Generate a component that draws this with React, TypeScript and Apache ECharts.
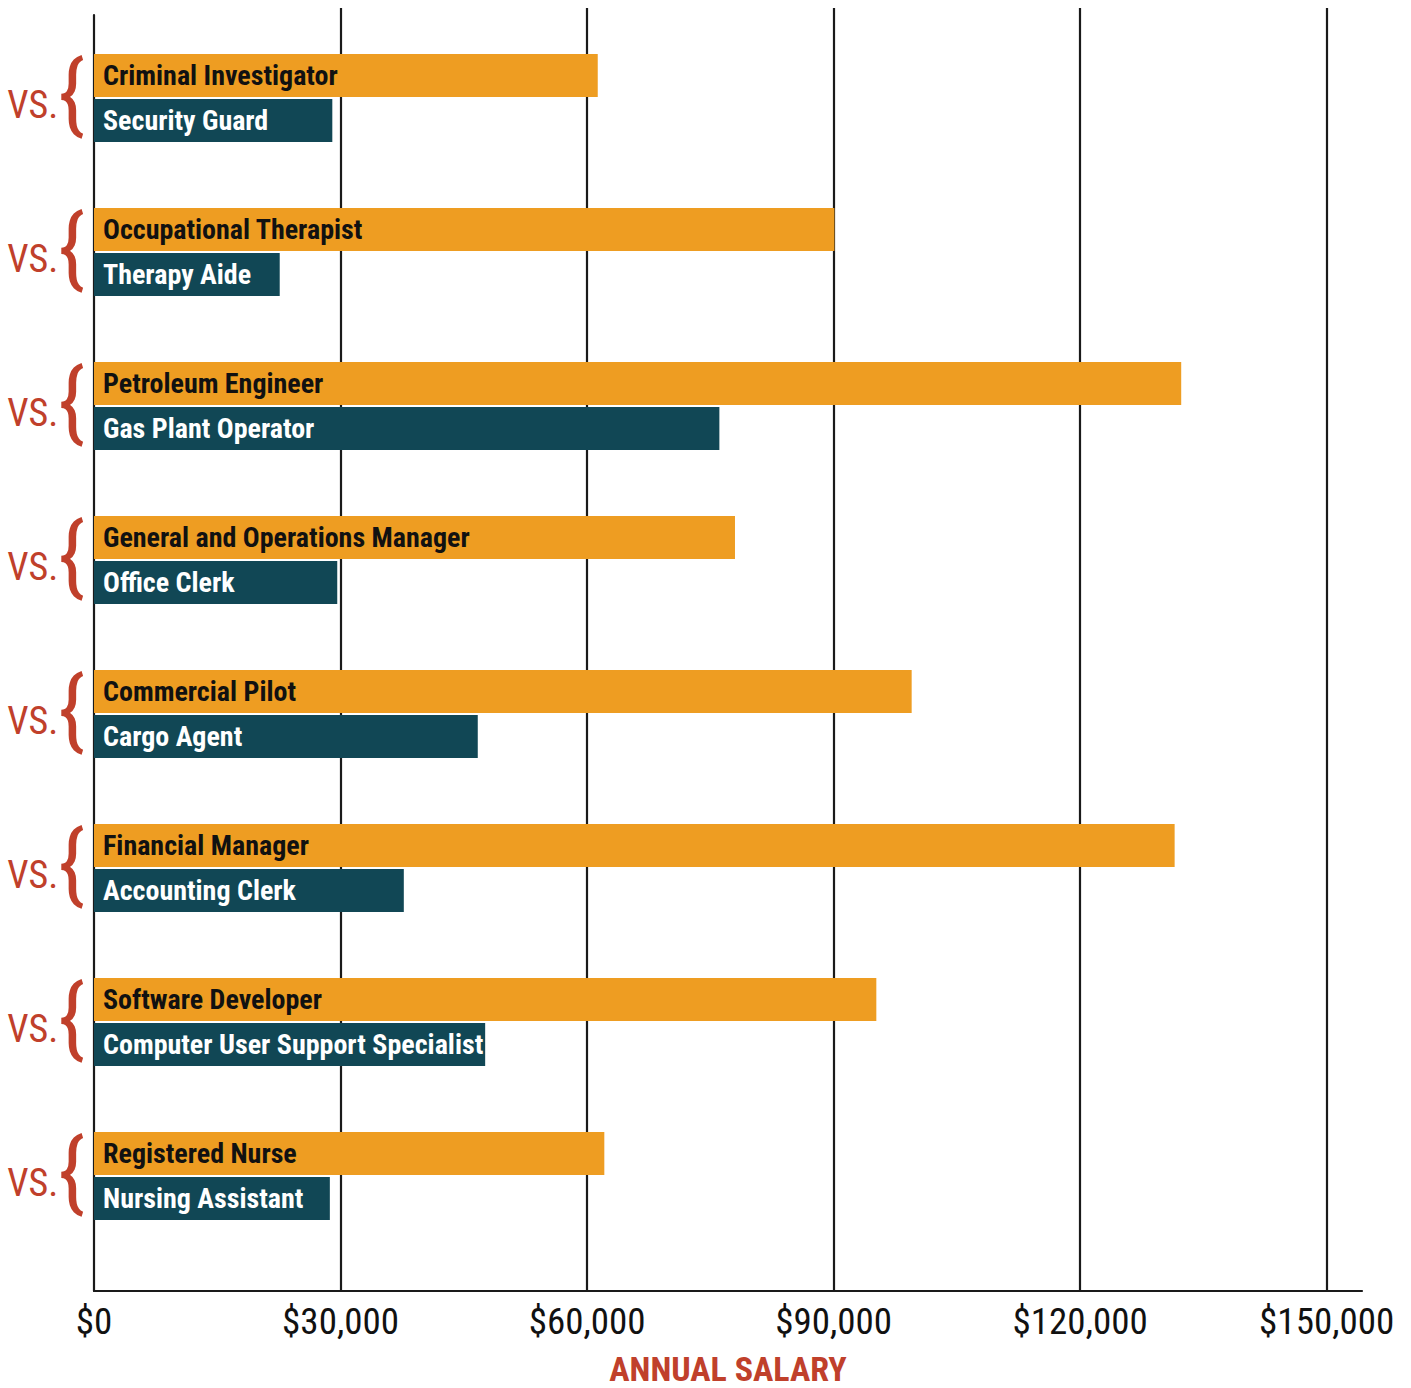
import React, { useEffect, useRef } from "react";
import * as echarts from "echarts";

const higherJobs = [
  "Criminal Investigator",
  "Occupational Therapist",
  "Petroleum Engineer",
  "General and Operations Manager",
  "Commercial Pilot",
  "Financial Manager",
  "Software Developer",
  "Registered Nurse",
];
const higherSalaries = [61300, 90100, 132300, 78000, 99500, 131500, 95200, 62100];
const lowerJobs = [
  "Security Guard",
  "Therapy Aide",
  "Gas Plant Operator",
  "Office Clerk",
  "Cargo Agent",
  "Accounting Clerk",
  "Computer User Support Specialist",
  "Nursing Assistant",
];
const lowerSalaries = [29000, 22600, 76100, 29600, 46700, 37700, 47600, 28700];
const tickValues = [0, 30000, 60000, 90000, 120000, 150000];
const axisTitle = "ANNUAL SALARY";
const pairLabel = "VS.";
const categories = higherJobs.map((h, i) => `${h} vs. ${lowerJobs[i]}`);

const X_MAX = 154300;
const FONT = "'Liberation Sans Narrow', 'Arial Narrow', 'Roboto Condensed', 'DejaVu Sans Condensed', sans-serif";
const ORANGE = "#EE9D22";
const TEAL = "#114755";
const RED = "#C0402B";
const INK = "#1a1a1a";

export default function App() {
  const ref = useRef<HTMLDivElement>(null);
  useEffect(() => {
    if (!ref.current) return;
    const chart = echarts.init(ref.current, undefined, { renderer: "svg" });
    const lineStyle = { color: INK, width: 2.2 };
    const gridBase = { left: 94, right: 49, containLabel: false, outerBoundsMode: "none" };
    chart.setOption({
      animation: false,
      backgroundColor: "#ffffff",
      grid: [
        { ...gridBase, top: 21, height: 1232 },
        { ...gridBase, top: 8, bottom: 97 },
        { ...gridBase, top: 15, bottom: 97 },
      ],
      xAxis: [
        { gridIndex: 0, type: "value", min: 0, max: X_MAX, show: false },
        {
          gridIndex: 1,
          type: "value",
          min: 0,
          max: X_MAX,
          interval: 30000,
          axisLine: { show: true, lineStyle },
          axisTick: { show: false },
          splitLine: { show: true, showMinLine: false, showMaxLine: false, lineStyle },
          axisLabel: {
            show: true,
            margin: 12,
            fontSize: 37,
            color: "#111",
            fontFamily: FONT,
            showMaxLabel: false,
            formatter: (v: number) => (tickValues.includes(v) ? "$" + v.toLocaleString("en-US") : ""),
          },
          name: axisTitle,
          nameLocation: "middle",
          nameGap: 61,
          nameTextStyle: { color: RED, fontSize: 34, fontWeight: "bold", fontFamily: FONT },
        },
        { gridIndex: 2, type: "value", min: 0, max: X_MAX, show: false },
      ],
      yAxis: [
        {
          gridIndex: 0,
          type: "category",
          inverse: true,
          data: categories,
          axisLine: { show: false },
          axisTick: { show: false },
          splitLine: { show: false },
          axisLabel: {
            margin: 9,
            formatter: () => `{vs|${pairLabel}}{br|{}`,
            rich: {
              vs: { fontSize: 38, color: RED, fontFamily: FONT, verticalAlign: "middle", padding: [14, 0, 0, 0] },
              br: { fontSize: 87, color: RED, fontFamily: FONT, verticalAlign: "middle", padding: [0, 0, 10, 0] },
            },
          },
        },
        { gridIndex: 1, type: "value", show: false },
        {
          gridIndex: 2,
          type: "value",
          min: 0,
          max: 1,
          axisLine: { show: true, onZero: false, lineStyle },
          axisTick: { show: false },
          axisLabel: { show: false },
          splitLine: { show: false },
        },
      ],
      series: [
        {
          type: "bar",
          name: "Higher",
          xAxisIndex: 0,
          yAxisIndex: 0,
          data: higherSalaries,
          barWidth: 43,
          barGap: "5%",
          itemStyle: { color: ORANGE },
          label: {
            show: true,
            position: "insideLeft",
            distance: 9,
            fontSize: 28,
            fontWeight: "bold",
            fontFamily: FONT,
            color: "#111",
            formatter: (p: any) => higherJobs[p.dataIndex],
          },
          z: 3,
        },
        {
          type: "bar",
          name: "Lower",
          xAxisIndex: 0,
          yAxisIndex: 0,
          data: lowerSalaries,
          barWidth: 43,
          barGap: "5%",
          itemStyle: { color: TEAL },
          label: {
            show: true,
            position: "insideLeft",
            distance: 9,
            fontSize: 28,
            fontWeight: "bold",
            fontFamily: FONT,
            color: "#ffffff",
            formatter: (p: any) => lowerJobs[p.dataIndex],
          },
          z: 3,
        },
      ],
    });
    return () => chart.dispose();
  }, []);
  return (
    <div
      ref={ref}
      style={{ position: "fixed", left: 0, top: 0, width: 1411, height: 1388, background: "#fff" }}
    />
  );
}
